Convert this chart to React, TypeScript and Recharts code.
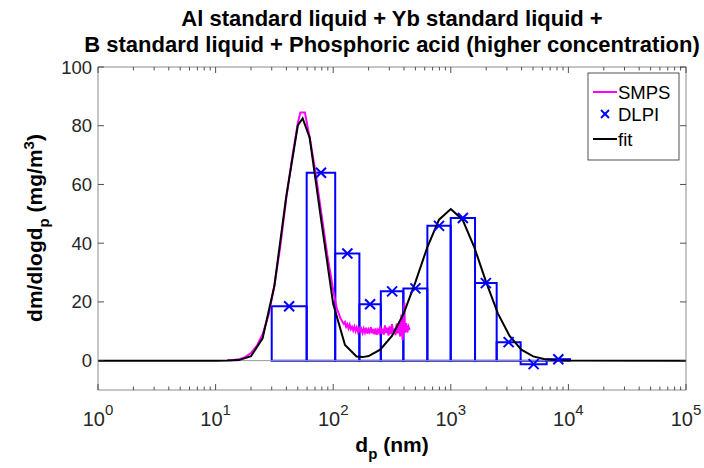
import React from 'react';
import { ComposedChart, Line, Scatter, XAxis, YAxis, ReferenceArea, ReferenceLine } from 'recharts';

const FONT = '"Liberation Sans", Arial, Helvetica, sans-serif';
const AXIS = '#262626';

// SMPS scan, diameter (nm) and dm/dlogdp (mg/m3)
const smpsDiam = [12.6, 14.1, 15.8, 17.8, 20, 22.4, 25.1, 28.2, 31.6, 35.5, 39.8, 44.7, 50.1, 52.5, 57.5, 60.3, 63.1, 70.8, 79.4, 89.1, 100, 107, 115,
  123, 125.9, 128.8, 131.8, 134.9, 138, 141.3, 144.5, 147.9, 151.4, 154.9, 158.5, 162.2, 166, 169.8, 173.8, 177.8, 182, 186.2, 190.5,
  195, 199.5, 204.2, 208.9, 213.8, 218.8, 223.9, 229.1, 234.4, 239.9, 245.5, 251.2, 257, 263, 269.2, 275.4, 281.8, 288.4, 295.1, 302,
  309, 316.2, 323.6, 331.1, 338.8, 346.7, 354.8, 363.1, 371.5, 380.2, 389, 398.1, 403, 407.4, 416.9, 426.6, 436.5, 446.7];
const smpsMass = [0.1, 0.2, 0.5, 1.2, 2.6, 5.0, 9.0, 15.5, 25.5, 39, 55, 69, 81, 84.5, 84.5, 80, 76, 64, 50, 36, 24, 18, 14.5,
  12.5, 13.1, 11.6, 12.4, 11.0, 12.2, 10.7, 11.5, 10.3, 11.6, 10.1, 11.3, 9.8, 11.0, 9.9, 10.8, 9.4, 10.9, 9.6, 11.2,
  9.2, 10.6, 9.7, 11.4, 9.3, 10.8, 9.0, 11.0, 8.8, 10.4, 9.5, 11.8, 9.1, 10.9, 8.9, 12.0, 9.4, 11.2, 8.5, 11.7,
  9.0, 12.4, 9.6, 11.0, 8.7, 12.6, 9.3, 13.2, 8.2, 15.8, 7.0, 12.5, 19.8, 9.5, 12.8, 9.6, 11.6, 10.4];

// bimodal fit
const fitDiam = [1, 10, 12.6, 15.8, 20, 25.1, 31.6, 39.8, 50.1, 55, 63.1, 79.4, 100, 126, 158, 178, 200, 251, 316, 398, 501, 631, 794, 1000, 1259, 1585, 1995, 2512, 3162, 3981, 5012, 6310, 7943, 10000, 100000];
const fitMass = [0, 0, 0.02, 0.19, 1.5, 7.6, 25.4, 55.7, 80.2, 82.5, 75.9, 47.3, 19.3, 5.3, 1.4, 1.2, 1.55, 3.75, 8.4, 16.1, 26.8, 38.6, 48.0, 51.6, 48.0, 38.6, 26.8, 16.1, 8.4, 3.75, 1.45, 0.49, 0.14, 0.04, 0];

// DLPI stages
const dlpiEdges = [30, 59.5, 104, 167, 254, 395, 632, 998, 1607, 2455, 3926, 6531, 10320];
const dlpiMid = [42.2, 78.7, 132, 206, 317, 500, 794, 1266, 1986, 3105, 5063, 8210];
const dlpiMass = [18.5, 64, 36.5, 19.2, 23.6, 24.6, 45.9, 48.6, 26.4, 6.3, -1.2, 0.5];

const xMajor = [1, 10, 100, 1000, 10000, 100000];
const yTicks = [0, 20, 40, 60, 80, 100];

const xTicks: number[] = [];
xMajor.forEach((d, i) => {
  if (i === xMajor.length - 1) xTicks.push(d);
  else [1, 2, 3, 4, 5, 6, 7, 8, 9].forEach(k => xTicks.push(d * k));
});

const smpsData = smpsDiam.map((d, i) => ({ d, v: smpsMass[i] }));
const fitData = fitDiam.map((d, i) => ({ d, v: fitMass[i] }));
const dlpiData = dlpiMid.map((d, i) => ({ d, v: dlpiMass[i] }));

const isMajor = (v: number) => xMajor.some(m => Math.abs(m - v) < 1e-6 * m);

const BottomTick = (props: any) => {
  const { x, y, payload } = props;
  const v = payload.value;
  const major = isMajor(v);
  return (
    <g>
      <line x1={x} x2={x} y1={y} y2={y - (major ? 6 : 3.5)} stroke={AXIS} strokeWidth={0.8} />
      {major && (
        <text x={x} y={y + 36} textAnchor="middle" fontFamily={FONT} fontSize={20} fill={AXIS}>
          10<tspan dy={-11} fontSize={15}>{Math.round(Math.log10(v))}</tspan>
        </text>
      )}
    </g>
  );
};

const TopTick = (props: any) => {
  const { x, y, payload } = props;
  const major = isMajor(payload.value);
  return <line x1={x} x2={x} y1={y} y2={y + (major ? 6 : 3.5)} stroke={AXIS} strokeWidth={0.8} />;
};

const LeftTick = (props: any) => {
  const { x, y, payload } = props;
  return (
    <g>
      <line x1={x} x2={x + 6} y1={y} y2={y} stroke={AXIS} strokeWidth={0.8} />
      <text x={x - 6} y={y + 6.5} textAnchor="end" fontFamily={FONT} fontSize={18.5} fill={AXIS}>
        {payload.value}
      </text>
    </g>
  );
};

const RightTick = (props: any) => {
  const { x, y } = props;
  return <line x1={x} x2={x - 6} y1={y} y2={y} stroke={AXIS} strokeWidth={0.8} />;
};

const XMark = (props: any) => {
  const { cx, cy } = props;
  const s = 5;
  return (
    <g stroke="#0000ff" strokeWidth={2}>
      <line x1={cx - s} y1={cy - s} x2={cx + s} y2={cy + s} />
      <line x1={cx - s} y1={cy + s} x2={cx + s} y2={cy - s} />
    </g>
  );
};

export default function App() {
  return (
    <div style={{ position: 'absolute', left: 0, top: 0, width: 704, height: 468, background: '#fff' }}>
      <ComposedChart width={704} height={468} margin={{ top: 66, right: 17, bottom: 77, left: 97 }}>
        <XAxis
          dataKey="d"
          type="number"
          scale="log"
          domain={[1, 100000]}
          allowDataOverflow
          ticks={xTicks}
          interval={0}
          height={1}
          tickSize={0}
          tickMargin={0}
          tickLine={false}
          axisLine={{ stroke: '#8c8c8c' }}
          tick={BottomTick}
        />
        <XAxis
          xAxisId="top"
          orientation="top"
          dataKey="d"
          type="number"
          scale="log"
          domain={[1, 100000]}
          allowDataOverflow
          ticks={xTicks}
          interval={0}
          height={1}
          tickSize={0}
          tickMargin={0}
          tickLine={false}
          axisLine={{ stroke: '#8c8c8c' }}
          tick={TopTick}
        />
        <YAxis
          type="number"
          domain={[-10, 100]}
          allowDataOverflow
          ticks={yTicks}
          interval={0}
          width={1}
          tickSize={0}
          tickMargin={0}
          tickLine={false}
          axisLine={{ stroke: '#8c8c8c' }}
          tick={LeftTick}
        />
        <YAxis
          yAxisId="right"
          orientation="right"
          type="number"
          domain={[-10, 100]}
          allowDataOverflow
          ticks={yTicks}
          interval={0}
          width={1}
          tickSize={0}
          tickMargin={0}
          tickLine={false}
          axisLine={{ stroke: '#8c8c8c' }}
          tick={RightTick}
        />
        <ReferenceLine y={0} stroke="#9a9a9a" strokeWidth={1} />
        {dlpiMass.map((m, i) => (
          <ReferenceArea
            key={i}
            x1={dlpiEdges[i]}
            x2={dlpiEdges[i + 1]}
            y1={0}
            y2={m}
            fill="none"
            fillOpacity={0}
            stroke="#0000ff"
            strokeWidth={2}
            ifOverflow="visible"
          />
        ))}
        <Line data={smpsData} dataKey="v" type="linear" stroke="#ff00ff" strokeWidth={2} dot={false} isAnimationActive={false} />
        <Scatter data={dlpiData} dataKey="v" shape={XMark} isAnimationActive={false} />
        <Line data={fitData} dataKey="v" type="linear" stroke="#000000" strokeWidth={2} dot={false} isAnimationActive={false} />
      </ComposedChart>

      <svg width={704} height={468} style={{ position: 'absolute', left: 0, top: 0, pointerEvents: 'none' }}>
        <g fontFamily={FONT} fontWeight="bold" fill="#000">
          <text x={392} y={26} textAnchor="middle" fontSize={22}>Al standard liquid + Yb standard liquid +</text>
          <text x={392} y={52} textAnchor="middle" fontSize={22}>B standard liquid + Phosphoric acid (higher concentration)</text>
          <text x={392} y={452} textAnchor="middle" fontSize={21}>
            d<tspan dy={7} fontSize={15}>p</tspan><tspan dy={-7}> (nm)</tspan>
          </text>
          <text transform="translate(42,228) rotate(-90)" textAnchor="middle" fontSize={21}>
            dm/dlogd<tspan dy={7} fontSize={15}>p</tspan><tspan dy={-7}> (mg/m</tspan><tspan dy={-8} fontSize={15}>3</tspan><tspan dy={8}>)</tspan>
          </text>
        </g>
        <g>
          <rect x={588} y={73} width={91} height={87} fill="#fff" stroke="#262626" strokeWidth={0.8} />
          <line x1={593} x2={617} y1={92} y2={92} stroke="#ff00ff" strokeWidth={2} />
          <g stroke="#0000ff" strokeWidth={2}>
            <line x1={601} y1={110} x2={609} y2={118} />
            <line x1={601} y1={118} x2={609} y2={110} />
          </g>
          <line x1={593} x2={617} y1={139} y2={139} stroke="#000" strokeWidth={2} />
          <g fontFamily={FONT} fontSize={18.5} fill="#000">
            <text x={618} y={99}>SMPS</text>
            <text x={618} y={121}>DLPI</text>
            <text x={618} y={146}>fit</text>
          </g>
        </g>
      </svg>
    </div>
  );
}
